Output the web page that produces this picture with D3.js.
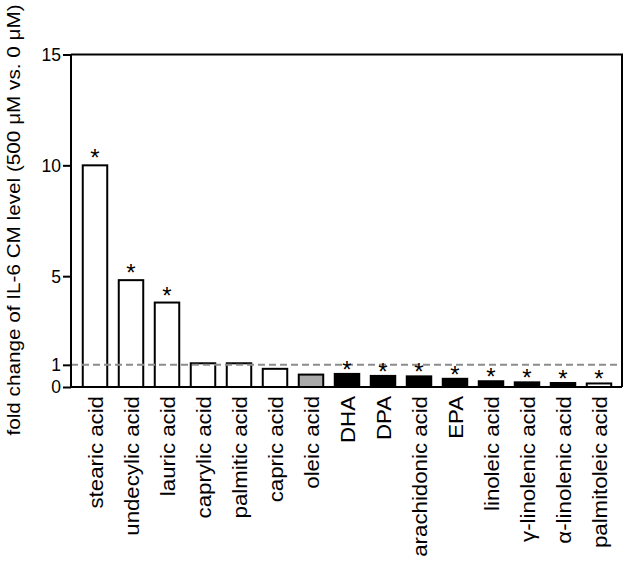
<!DOCTYPE html>
<html>
<head>
<meta charset="utf-8">
<script src="https://cdn.jsdelivr.net/npm/d3@7"></script>
<style>
  html, body { margin: 0; padding: 0; background: #fff; }
  svg { display: block; font-family: "Liberation Sans", Arial, Helvetica, sans-serif; }
</style>
</head>
<body>
<div id="chart"></div>
<script>
(() => {
  "use strict";

  // ---- data ----
  const categories = [
    "stearic acid", "undecylic acid", "lauric acid", "caprylic acid", "palmitic acid",
    "capric acid", "oleic acid", "DHA", "DPA", "arachidonic acid", "EPA",
    "linoleic acid", "γ-linolenic acid", "α-linolenic acid", "palmitoleic acid"
  ];
  const foldChange = [10.0, 4.82, 3.81, 1.07, 1.07, 0.82, 0.56, 0.59, 0.5, 0.48, 0.37, 0.26, 0.21, 0.18, 0.16];
  const barKind = ["open","open","open","open","open","open","grey","solid","solid","solid","solid","solid","solid","solid","open"];
  const significant = [true, true, true, false, false, false, false, true, true, true, true, true, true, true, true];
  const yTicks = [0, 1, 5, 10, 15];
  const refLevel = 1;
  const yTitle = "fold change of IL-6 CM level (500 μM vs. 0 μM)";

  const W = 628, H = 563;
  const axisX = 71, frameRight = 622;

  const svg = d3.select("#chart").append("svg").attr("width", W).attr("height", H);

  const y = d3.scaleLinear().domain([0, 15]).range([387, 54.5]);
  const x = d3.scaleBand().domain(categories).range([77, 617])
    .paddingInner(0.32).paddingOuter(0.16);
  const fill = d3.scaleOrdinal().domain(["open","grey","solid"]).range(["#fff","#aaa","#000"]);

  const rows = categories.map((c, i) => ({ name: c, v: foldChange[i], kind: barKind[i], sig: significant[i] }));

  // bars
  svg.append("g").selectAll("rect").data(rows).join("rect")
    .attr("x", d => x(d.name))
    .attr("width", x.bandwidth())
    .attr("y", d => y(d.v))
    .attr("height", d => y(0) - y(d.v))
    .attr("fill", d => fill(d.kind))
    .attr("stroke", "#000")
    .attr("stroke-width", 2);

  // reference line at 1
  svg.append("line")
    .attr("x1", axisX).attr("x2", frameRight)
    .attr("y1", y(refLevel)).attr("y2", y(refLevel))
    .attr("stroke", "#8c8c8c").attr("stroke-width", 2)
    .attr("stroke-dasharray", "7,4");

  // frame: top and right
  svg.append("path")
    .attr("d", `M${axisX},${y(15)}H${frameRight}V${y(0)}`)
    .attr("fill", "none").attr("stroke", "#000").attr("stroke-width", 2);

  // x baseline
  svg.append("line")
    .attr("x1", axisX).attr("x2", frameRight)
    .attr("y1", y(0)).attr("y2", y(0))
    .attr("stroke", "#000").attr("stroke-width", 2);

  // y axis
  const yAxisG = svg.append("g")
    .attr("transform", `translate(${axisX},0)`)
    .call(d3.axisLeft(y).tickValues(yTicks).tickSize(8).tickPadding(2).tickFormat(d3.format("d")));
  yAxisG.select(".domain").attr("stroke-width", 2).attr("d", `M-0,${y(0)}V${y(15)}`);
  yAxisG.selectAll(".tick line").attr("stroke-width", 2);
  yAxisG.selectAll(".tick text")
    .attr("font-size", 17.5)
    .attr("fill", "#000")
    .attr("font-family", "\"Liberation Sans\", Arial, sans-serif")
    .attr("transform", "scale(1,1.05)");

  // x labels
  svg.append("g").selectAll("text").data(rows).join("text")
    .attr("transform", d => `translate(${x(d.name) + x.bandwidth() / 2},396) rotate(-90) scale(1.06,1)`)
    .attr("text-anchor", "end")
    .attr("dy", "0.36em")
    .attr("font-size", 21)
    .text(d => d.name);

  // significance stars
  svg.append("g").selectAll("text").data(rows.filter(d => d.sig)).join("text")
    .attr("x", d => x(d.name) + x.bandwidth() / 2)
    .attr("y", d => y(d.v) + (d.v > 2 ? 1 : 4))
    .attr("text-anchor", "middle")
    .attr("font-size", 24)
    .text("*");

  // y title
  svg.append("text")
    .attr("transform", `translate(19.5,220) rotate(-90) scale(1.12,1)`)
    .attr("text-anchor", "middle")
    .attr("font-size", 18.5)
    .text(yTitle);
})();
</script>
</body>
</html>
